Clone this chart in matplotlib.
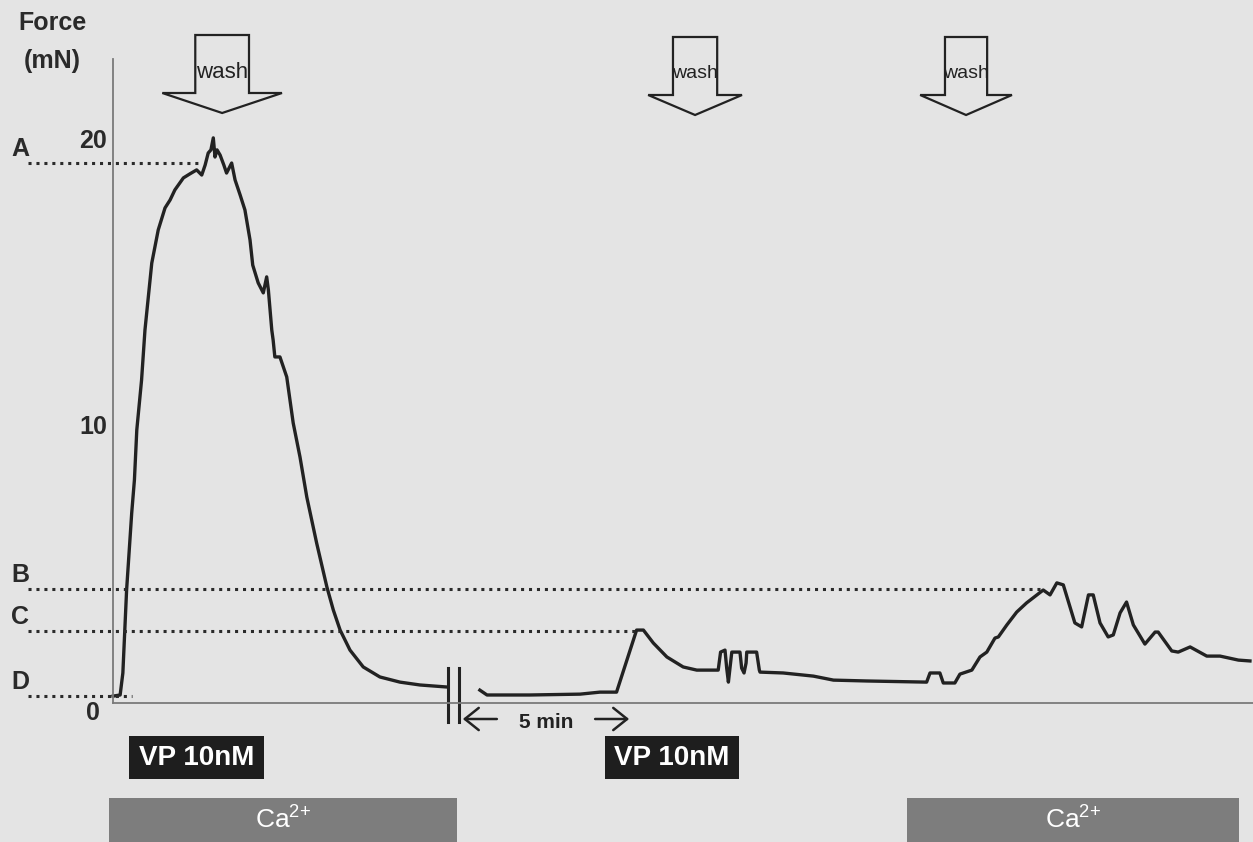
import matplotlib
matplotlib.use("Agg")
import matplotlib.pyplot as plt
import matplotlib.transforms as mtransforms
from matplotlib.patches import Rectangle, Polygon

plt.rcParams['font.family'] = ['Liberation Sans', 'DejaVu Sans']
plt.rcParams['mathtext.fontset'] = 'custom'
plt.rcParams['mathtext.rm'] = 'Liberation Sans'
plt.rcParams['mathtext.it'] = 'Liberation Sans:italic'
plt.rcParams['mathtext.bf'] = 'Liberation Sans:bold'
plt.rcParams['mathtext.default'] = 'regular'

# ---------------- data (time in min, force in mN) ----------------
# first VP 10 nM contraction (before the break)
t1 = [0.00, 0.21, 0.29, 0.40, 0.55, 0.63, 0.70, 0.84, 0.94, 1.14, 1.33, 1.53,
      1.68, 1.82, 2.07, 2.26, 2.46, 2.61, 2.71, 2.80, 2.88, 2.95, 3.00, 3.06,
      3.15, 3.26, 3.34, 3.49, 3.59, 3.74, 3.88, 4.03, 4.11, 4.27, 4.42, 4.52,
      4.57, 4.67, 4.71, 4.76, 4.91, 5.11, 5.30, 5.50, 5.70, 5.99, 6.29, 6.48,
      6.68, 6.97, 7.36, 7.85, 8.44, 9.03, 9.81]
f1 = [0.24, 0.28, 1.05, 3.95, 6.64, 7.80, 9.55, 11.29, 13.04, 15.38, 16.54, 17.31,
      17.59, 17.94, 18.36, 18.50, 18.64, 18.46, 18.81, 19.23, 19.34, 19.76, 19.09, 19.34,
      19.16, 18.81, 18.53, 18.88, 18.29, 17.76, 17.24, 16.19, 15.31, 14.69, 14.34, 14.90,
      14.44, 13.04, 12.69, 12.10, 12.10, 11.40, 9.79, 8.60, 7.20, 5.59, 4.06, 3.25,
      2.55, 1.85, 1.26, 0.91, 0.73, 0.63, 0.56]

# second part (after the break): VP 10 nM, wash, Ca2+ re-addition
t2 = [10.79, 11.00, 12.26, 13.74, 14.32, 14.81, 15.40, 15.60, 15.89, 16.29, 16.77,
      17.17, 17.80, 17.87, 18.00, 18.05, 18.10, 18.15, 18.20, 18.44, 18.49, 18.56,
      18.62, 18.64, 18.93, 19.01, 19.03, 19.71, 20.60, 21.19, 22.17, 23.93, 24.03,
      24.32, 24.42, 24.76, 24.91, 25.26, 25.50, 25.70, 25.94, 26.04, 26.29, 26.58,
      26.87, 27.36, 27.56, 27.76, 27.95, 28.29, 28.49, 28.69, 28.83, 29.03, 29.27,
      29.42, 29.62, 29.81, 30.01, 30.35, 30.65, 30.74, 31.14, 31.33, 31.68, 32.17,
      32.56, 33.10, 33.44]
f2 = [0.45, 0.28, 0.28, 0.31, 0.38, 0.38, 2.55, 2.55, 2.10, 1.61, 1.26,
      1.15, 1.15, 1.78, 1.85, 1.22, 0.73, 1.26, 1.78, 1.78, 1.22, 1.05,
      1.40, 1.78, 1.78, 1.15, 1.08, 1.05, 0.94, 0.80, 0.77, 0.73, 1.05,
      1.05, 0.70, 0.70, 1.01, 1.15, 1.61, 1.78, 2.27, 2.31, 2.73, 3.18,
      3.50, 3.95, 3.78, 4.20, 4.13, 2.80, 2.66, 3.78, 3.78, 2.80, 2.31,
      2.38, 3.15, 3.53, 2.73, 2.06, 2.48, 2.48, 1.82, 1.78, 1.96, 1.64,
      1.64, 1.50, 1.47]

# reference levels A-D and where their dotted lines end
ref_labels = ['A', 'B', 'C', 'D']
ref_levels = [18.88, 3.99, 2.52, 0.245]
ref_ends = [2.50, 27.35, 15.38, 0.56]

y_ticks = [0, 10, 20]
wash_times = [3.21, 17.12, 25.09]
vp_boxes = [(0.47, 4.44), (14.47, 18.41)]
ca_bars = [(-0.12, 10.12), (23.35, 33.12)]
break_times = [9.85, 10.18]
five_min = (10.29, 15.18)

# ---------------- figure ----------------
W, H = 1253, 842
BG = '#e4e4e4'
INK = '#222222'
fig = plt.figure(figsize=(W / 100, H / 100), dpi=100, facecolor=BG)

def P(x, y):
    return x / W, 1 - y / H

SX = 34.0   # px per min
SY = 28.6   # px per mN
ax = fig.add_axes([113 / W, (H - 703) / H, (W - 113) / W, (703 - 59) / H])
ax.set_facecolor('none')
ax.set_xlim(0, (W - 113) / SX)
ax.set_ylim(0, (703 - 59) / SY)
for s in ['top', 'right']:
    ax.spines[s].set_visible(False)
for s in ['left', 'bottom']:
    ax.spines[s].set_color('#7a7a7a')
    ax.spines[s].set_linewidth(1.3)
ax.set_xticks([])
ax.set_yticks([])

# traces
ax.plot(t1, f1, color=INK, lw=2.4, solid_joinstyle='round', clip_on=False)
ax.plot(t2, f2, color=INK, lw=2.4, solid_joinstyle='round', clip_on=False)

# dotted reference lines
x_start = (28 - 113) / SX
for lab, lev, end in zip(ref_labels, ref_levels, ref_ends):
    ax.plot([x_start, end], [lev, lev], color='#2a2a2a', lw=2.2,
            linestyle=(0, (1, 1.6)), clip_on=False)
    trans = mtransforms.offset_copy(ax.transData, fig=fig, x=0, y=14, units='dots')
    ax.text((20 - 113) / SX, lev, lab, transform=trans, ha='center', va='center',
            fontsize=18, fontweight='bold', color='#2a2a2a', clip_on=False)

# y tick labels
tick_trans = mtransforms.offset_copy(ax.transData, fig=fig, x=0, y=-10, units='dots')
for v in y_ticks:
    ax.text((93 - 113) / SX, v, str(v), transform=tick_trans, ha='center', va='center',
            fontsize=18, fontweight='bold', color='#2a2a2a', clip_on=False)

fig.text(*P(52, 23), 'Force', ha='center', va='center', fontsize=18,
         fontweight='bold', color='#2a2a2a')
fig.text(*P(52, 61), '(mN)', ha='center', va='center', fontsize=18,
         fontweight='bold', color='#2a2a2a')

# blended transform: x in data (min), y in figure fraction
bt = mtransforms.blended_transform_factory(ax.transData, fig.transFigure)

# wash arrows
arrow_geom = [(0.79, 1.76, 35, 93, 113, 16, 72),
              (0.65, 1.38, 37, 95, 115, 14, 73),
              (0.62, 1.35, 37, 95, 115, 14, 73)]
for tc, (sw, hw, ytop, ysh, ytip, fs, ytx) in zip(wash_times, arrow_geom):
    yt, ys, yp = 1 - ytop / H, 1 - ysh / H, 1 - ytip / H
    pts = [(tc - sw, yt), (tc + sw, yt), (tc + sw, ys), (tc + hw, ys),
           (tc, yp), (tc - hw, ys), (tc - sw, ys)]
    ax.add_patch(Polygon(pts, closed=True, transform=bt, facecolor='none',
                         edgecolor=INK, lw=1.6, clip_on=False, joinstyle='miter'))
    ax.text(tc, 1 - ytx / H, 'wash', transform=bt, ha='center', va='center',
            fontsize=fs, color=INK, clip_on=False)

# VP boxes
for a, b in vp_boxes:
    ax.add_patch(Rectangle((a, 1 - 779 / H), b - a, (779 - 736) / H, transform=bt,
                           facecolor='#1e1e1e', edgecolor='none', clip_on=False))
    ax.text((a + b) / 2, 1 - 758 / H, 'VP 10nM', transform=bt, ha='center',
            va='center', fontsize=20, fontweight='bold', color='white', clip_on=False)

# Ca2+ bars
for a, b in ca_bars:
    ax.add_patch(Rectangle((a, 0), b - a, (H - 798) / H, transform=bt,
                           facecolor='#7d7d7d', edgecolor='none', clip_on=False))
    ax.text((a + b) / 2, 1 - 820 / H, 'Ca$^{2{+}}$', transform=bt, ha='center',
            va='center', fontsize=19, color='white', clip_on=False)

# break marks
for tb in break_times:
    ax.plot([tb, tb], [(703 - 668) / SY, (703 - 722) / SY], color=INK, lw=2.2,
            clip_on=False)

# 5 min marker
ymin_ = (703 - 719) / SY
ax.annotate('', xy=(five_min[0], ymin_), xytext=(five_min[0] + 1.0, ymin_),
            arrowprops=dict(arrowstyle='->,head_length=0.5,head_width=0.4',
                            color=INK, lw=1.8, mutation_scale=20,
                            shrinkA=0, shrinkB=0), annotation_clip=False)
ax.annotate('', xy=(five_min[1], ymin_), xytext=(five_min[1] - 1.0, ymin_),
            arrowprops=dict(arrowstyle='->,head_length=0.5,head_width=0.4',
                            color=INK, lw=1.8, mutation_scale=20,
                            shrinkA=0, shrinkB=0), annotation_clip=False)
ax.text(sum(five_min) / 2, (703 - 722) / SY, '5 min', ha='center', va='center',
        fontsize=15, fontweight='bold', color=INK, clip_on=False)

fig.savefig('out.png', dpi=100, facecolor=BG)
